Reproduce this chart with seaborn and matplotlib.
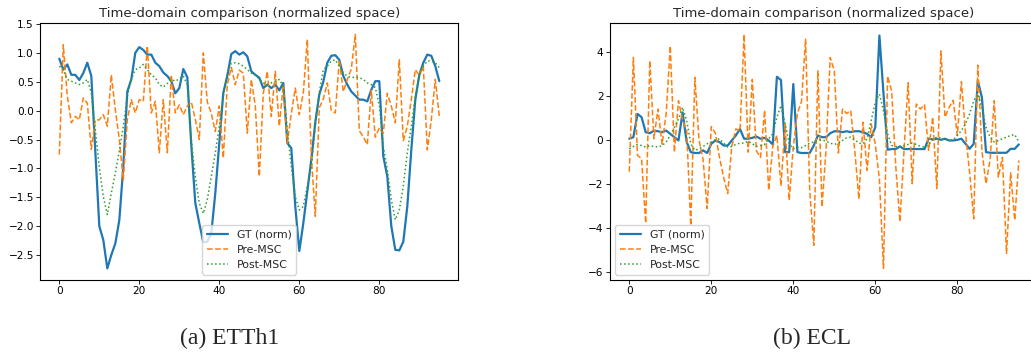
import numpy as np
import pandas as pd
import matplotlib
matplotlib.use("Agg")
import matplotlib.pyplot as plt
import seaborn as sns

steps = list(range(96))

etth1_gt = [0.90, 0.71, 0.80, 0.62, 0.62, 0.53, 0.65, 0.83, 0.60, -0.70,
            -2.00, -2.24, -2.73, -2.50, -2.30, -1.90, -0.97, 0.33, 0.54, 1.00,
            1.10, 1.05, 0.97, 0.97, 0.83, 0.77, 0.66, 0.60, 0.51, 0.30,
            0.39, 0.72, 0.58, -0.60, -1.60, -1.95, -2.28, -2.27, -2.12, -1.43,
            -0.56, 0.31, 0.60, 0.98, 1.03, 0.97, 1.01, 0.94, 0.68, 0.62,
            0.57, 0.39, 0.45, 0.39, 0.45, 0.35, 0.48, -0.56, -0.65, -1.66,
            -2.43, -1.95, -1.40, -0.85, -0.20, 0.28, 0.50, 0.83, 0.95, 0.96,
            0.88, 0.60, 0.45, 0.33, 0.26, 0.19, 0.19, 0.16, 0.36, 0.51,
            0.51, -0.79, -1.14, -2.00, -2.41, -2.42, -2.27, -1.66, -0.68, 0.19,
            0.62, 0.83, 0.97, 0.95, 0.77, 0.51]
etth1_pre = [-0.76, 1.14, 0.25, -0.21, -0.10, -0.16, 0.22, 0.13, -0.67, -0.16,
             -0.16, -0.07, -0.27, 0.62, 0.02, -0.50, -1.20, -0.16, 0.19, -0.04,
             0.19, 0.16, 1.12, -0.04, 0.16, -0.73, 0.19, -0.73, 0.62, -0.04,
             0.10, -0.07, 0.08, 0.15, -0.15, -0.50, 1.00, 0.15, -0.05, -0.36,
             0.08, -0.82, 0.45, 0.75, 0.45, 0.70, 0.65, -0.39, 0.54, 0.08,
             -1.14, 0.30, 0.68, -0.10, 0.68, -0.27, 0.45, -0.56, -0.05, 0.39,
             -0.07, 0.31, 1.23, -0.79, -1.83, 0.05, 0.20, 0.48, 0.00, -0.04,
             0.88, 0.33, 0.54, 0.72, 1.32, -0.35, -0.45, -0.59, 0.35, -0.46,
             -0.30, -0.39, 0.30, 0.08, -0.21, 0.88, -0.52, -0.27, 0.19, 0.71,
             0.61, 0.77, -0.68, -0.16, 0.54, -0.10]
etth1_post = [0.77, 0.71, 0.54, 0.51, 0.48, 0.45, 0.48, 0.54, 0.31, -0.33,
              -0.97, -1.49, -1.80, -1.43, -1.08, -0.70, -0.27, 0.25, 0.54, 0.71,
              0.74, 0.80, 0.71, 0.62, 0.57, 0.45, 0.41, 0.47, 0.54, 0.51,
              0.55, 0.60, 0.45, -0.50, -1.15, -1.60, -1.78, -1.54, -1.14, -0.73,
              -0.27, 0.25, 0.65, 0.82, 0.83, 0.81, 0.77, 0.71, 0.65, 0.62,
              0.54, 0.48, 0.45, 0.48, 0.51, 0.54, 0.42, -0.33, -0.97, -1.49,
              -1.72, -1.66, -1.31, -0.97, -0.27, 0.31, 0.71, 0.77, 0.86, 0.88,
              0.77, 0.65, 0.60, 0.57, 0.58, 0.57, 0.54, 0.48, 0.45, 0.40,
              0.10, -0.62, -1.02, -1.54, -1.89, -1.72, -1.31, -0.73, -0.27, 0.25,
              0.60, 0.77, 0.86, 0.86, 0.83, 0.74]

ecl_gt = [0.05, 0.12, 1.18, 1.03, 0.35, 0.30, 0.42, 0.39, 0.35, 0.42,
          0.27, 0.12, -0.03, 1.25, -0.10, -0.56, -0.60, -0.60, -0.48, -0.60,
          -0.18, -0.03, -0.10, -0.26, -0.26, -0.03, 0.20, 0.50, 0.05, 0.05,
          0.09, 0.15, 0.05, 0.09, -0.03, -0.21, 2.87, 2.72, -0.56, -0.56,
          2.54, -0.56, -0.60, -0.60, -0.60, -0.26, 0.20, 0.12, 0.12, 0.30,
          0.39, 0.39, 0.35, 0.39, 0.35, 0.39, 0.39, 0.35, 0.27, 0.12,
          0.57, 4.75, 2.10, -0.45, -0.42, -0.42, -0.30, -0.42, -0.42, -0.42,
          -0.42, -0.42, -0.42, 0.05, 0.02, 0.05, 0.00, 0.05, -0.03, -0.03,
          0.00, 0.05, -0.18, -0.41, -0.18, 2.69, 1.93, -0.56, -0.59, -0.59,
          -0.59, -0.59, -0.59, -0.41, -0.41, -0.21]
ecl_pre = [-1.45, 3.75, -0.71, -0.86, -3.80, 3.60, 0.05, 1.40, -0.20, 1.20,
           4.27, -0.56, 1.78, 0.90, 0.40, -3.90, 2.84, 0.00, -0.90, -3.13,
           0.60, 0.30, -0.80, -1.70, -2.45, -0.30, 0.50, 0.40, 4.80, -0.56,
           2.75, -0.50, -0.80, 1.35, -2.30, -0.30, 0.20, -2.10, 0.70, -2.75,
           -0.30, 1.20, 1.75, 4.58, -2.30, -4.80, 3.14, -3.05, -0.40, 3.75,
           3.14, -0.60, 1.40, 1.20, 1.33, -0.50, -2.70, 0.80, -1.39, 0.72,
           -0.20, -1.80, -5.85, 2.90, 2.20, -1.24, -3.73, -0.50, 2.60, -2.00,
           1.63, 1.40, 1.60, -0.48, 1.03, -2.22, 4.05, 1.03, 1.48, 1.80,
           0.20, 2.65, 0.30, -1.50, -3.60, 3.40, -0.50, -2.00, -0.90, 1.78,
           -1.70, -0.80, -5.17, -1.50, -3.66, -0.94]
ecl_post = [-0.41, -0.30, -0.21, -0.26, -0.33, -0.26, -0.30, -0.33, -0.26, -0.10,
            0.20, 0.57, 0.95, 1.48, 0.88, -0.18, -0.48, -0.41, -0.30, -0.18,
            -0.10, 0.00, 0.05, -0.15, -0.33, -0.30, -0.21, -0.15, -0.15, -0.06,
            -0.18, -0.30, -0.26, -0.21, 0.05, 0.27, 1.03, 1.56, 0.73, -0.18,
            -0.41, -0.33, -0.36, -0.26, -0.15, -0.10, -0.03, 0.00, -0.06, -0.15,
            -0.21, -0.15, -0.03, 0.09, 0.12, 0.00, -0.15, -0.18, 0.05, 0.88,
            1.71, 2.08, 1.33, 0.27, -0.26, -0.30, -0.33, -0.26, -0.21, -0.15,
            -0.21, -0.30, -0.33, -0.21, 0.00, 0.12, 0.09, 0.00, -0.03, 0.00,
            0.20, 0.42, 0.73, 1.18, 1.78, 2.08, 1.48, 0.57, 0.12, -0.10,
            -0.03, 0.05, 0.12, 0.20, 0.24, -0.10]

series_labels = ["GT (norm)", "Pre-MSC", "Post-MSC"]
title_text = "Time-domain comparison (normalized space)"
captions = ["(a) ETTh1", "(b) ECL"]

sns.set_theme(style="ticks")
plt.rcParams["font.family"] = ["DejaVu Sans"]
plt.rcParams["axes.edgecolor"] = "black"
plt.rcParams["axes.linewidth"] = 0.8
plt.rcParams["xtick.color"] = "black"
plt.rcParams["ytick.color"] = "black"
plt.rcParams["xtick.major.size"] = 2.6
plt.rcParams["ytick.major.size"] = 2.6
plt.rcParams["xtick.major.width"] = 0.6
plt.rcParams["ytick.major.width"] = 0.6

W, H = 1031, 354
fig = plt.figure(figsize=(W / 100, H / 100), dpi=100)
ax1 = fig.add_axes([40.3 / W, 1 - 280 / H, 418 / W, 257.3 / H])
ax2 = fig.add_axes([609.8 / W, 1 - 280 / H, 428.5 / W, 257.3 / H])

colors = ["#1f77b4", "#ff7f0e", "#2ca02c"]
styles = ["-", "--", ":"]
widths = [1.6, 1.1, 1.1]

panels = [(ax1, [etth1_gt, etth1_pre, etth1_post], "lower center"),
          (ax2, [ecl_gt, ecl_pre, ecl_post], "lower left")]

for ax, data, loc in panels:
    for vals, lab, c, ls, lw in zip(data, series_labels, colors, styles, widths):
        sns.lineplot(x=steps, y=vals, ax=ax, color=c, linestyle=ls,
                     linewidth=lw, label=lab)
    ax.set_title(title_text, fontsize=9.5, pad=4)
    ax.tick_params(labelsize=7.6, pad=2)
    ax.legend(loc=loc, fontsize=7.8, frameon=True, fancybox=True,
              framealpha=0.8, edgecolor="#cccccc")
    ax.set_xlabel("")
    ax.set_ylabel("")

fig.text(230 / W, 1 - 338 / H, captions[0], ha="center", va="center",
         fontsize=17, family=["Liberation Serif"])
fig.text(812 / W, 1 - 338 / H, captions[1], ha="center", va="center",
         fontsize=17, family=["Liberation Serif"])

fig.savefig("out.png", dpi=100)
